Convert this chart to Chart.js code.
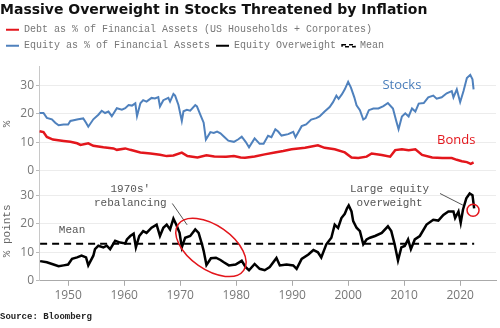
<!DOCTYPE html>
<html>
<head>
<meta charset="utf-8">
<script src="https://cdn.jsdelivr.net/npm/chart.js@4.4.1/dist/chart.umd.min.js"></script>
<style>
  body { margin: 0; background: #fff; }
  #wrap { width: 500px; height: 328px; }
</style>
</head>
<body>
<div id="wrap"><canvas id="chart" width="500" height="328"></canvas></div>
<script>
// debt as % of financial assets (red)
const debtYears = [1944.9, 1945.6, 1946.2, 1947.3, 1949.2, 1950.4, 1951.6, 1952.2, 1953.6, 1954.5,
  1956.3, 1958.1, 1958.7, 1960.2, 1961.1, 1962.9, 1964.7, 1966.4, 1967.6, 1968.8,
  1970.3, 1971.3, 1973.1, 1974.7, 1976.1, 1978.2, 1979.6, 1980.8, 1981.6, 1983.3,
  1985.1, 1986.9, 1988.4, 1989.9, 1992.3, 1994.6, 1995.8, 1997.6, 1999.4, 2000.6,
  2001.8, 2003.3, 2004.2, 2006.0, 2007.5, 2008.4, 2009.6, 2010.8, 2012.0, 2013.2,
  2015.0, 2016.8, 2018.5, 2019.4, 2020.3, 2021.2, 2021.9, 2022.4];
const debtPct = [13.9, 13.6, 11.9, 11.0, 10.5, 10.2, 9.7, 9.1, 9.7, 8.8,
  8.3, 7.9, 7.4, 7.9, 7.4, 6.5, 6.1, 5.7, 5.2, 5.4,
  6.4, 5.2, 4.7, 5.5, 5.1, 5.0, 5.2, 4.7, 4.6, 5.1,
  5.8, 6.5, 7.0, 7.6, 8.1, 9.0, 8.1, 7.6, 6.5, 4.7,
  4.5, 5.0, 6.1, 5.6, 5.0, 7.3, 7.6, 7.3, 7.6, 5.6,
  4.7, 4.5, 4.5, 3.9, 3.4, 3.1, 2.5, 3.0];

// equity as % of financial assets (blue)
const equityYears = [1944.9, 1945.6, 1946.2, 1947.1, 1947.7, 1948.3, 1949.2, 1950.0, 1950.4, 1951.8,
  1952.7, 1953.2, 1953.6, 1954.5, 1955.4, 1956.0, 1956.6, 1957.2, 1957.8, 1958.7,
  1959.6, 1960.2, 1960.8, 1961.4, 1962.0, 1962.3, 1962.9, 1963.4, 1964.0, 1964.9,
  1965.5, 1966.1, 1966.4, 1967.0, 1967.9, 1968.2, 1968.8, 1969.1, 1969.7, 1970.3,
  1970.6, 1971.2, 1971.8, 1972.7, 1973.0, 1973.6, 1974.2, 1974.6, 1975.4, 1976.0,
  1976.6, 1977.2, 1977.8, 1978.6, 1979.6, 1980.4, 1981.0, 1981.7, 1982.3, 1983.3,
  1984.2, 1984.9, 1985.7, 1986.3, 1987.0, 1987.5, 1988.1, 1989.3, 1990.2, 1990.6,
  1991.7, 1992.5, 1993.4, 1994.3, 1994.9, 1995.8, 1996.7, 1997.3, 1997.9, 1998.3,
  1998.9, 1999.4, 2000.0, 2000.5, 2001.1, 2001.5, 2002.1, 2002.7, 2003.1, 2003.7,
  2004.5, 2005.4, 2006.3, 2007.1, 2008.0, 2008.6, 2009.0, 2009.6, 2010.2, 2010.8,
  2011.4, 2012.0, 2012.6, 2013.5, 2014.3, 2015.2, 2015.8, 2016.7, 2017.6, 2018.5,
  2018.8, 2019.4, 2020.0, 2020.6, 2021.2, 2021.8, 2022.2, 2022.4];
const equityPct = [20.3, 20.3, 18.6, 18.1, 16.9, 16.0, 16.3, 16.3, 17.5, 18.1,
  18.4, 16.9, 15.5, 18.1, 19.7, 21.1, 20.3, 20.8, 19.2, 22.0,
  21.5, 22.0, 23.1, 22.9, 23.7, 19.2, 23.7, 24.8, 24.3, 25.6,
  25.4, 25.9, 22.6, 24.8, 25.6, 24.3, 27.0, 26.4, 23.1, 17.5,
  20.9, 21.4, 21.1, 23.1, 22.6, 19.7, 16.9, 11.0, 13.6, 13.3,
  13.8, 13.2, 12.1, 10.6, 10.2, 11.1, 12.0, 10.2, 8.3, 11.4,
  9.5, 9.5, 12.3, 11.8, 14.6, 13.8, 12.4, 12.9, 13.7, 11.8,
  15.7, 16.3, 18.0, 18.5, 19.1, 20.8, 22.4, 24.1, 26.4, 25.3,
  26.9, 28.6, 31.2, 29.2, 25.8, 23.0, 21.3, 18.0, 18.5, 21.3,
  21.9, 21.9, 22.7, 23.8, 21.9, 17.4, 14.6, 19.1, 20.2, 19.1,
  21.9, 20.8, 23.6, 23.8, 25.8, 26.4, 25.3, 25.8, 27.2, 28.0,
  25.8, 28.6, 24.1, 28.0, 32.6, 33.7, 32.1, 28.6];

// equity overweight, % points (black)
const overweightYears = [1945.0, 1946.2, 1947.4, 1948.3, 1949.2, 1950.0, 1950.7, 1951.6, 1952.4, 1953.2,
  1953.6, 1954.5, 1954.8, 1955.4, 1956.3, 1956.9, 1957.5, 1958.4, 1959.3, 1960.2,
  1960.5, 1961.1, 1961.7, 1962.1, 1962.7, 1963.4, 1964.0, 1964.9, 1965.8, 1966.4,
  1967.0, 1967.6, 1968.2, 1968.8, 1969.3, 1969.9, 1970.3, 1970.9, 1971.8, 1972.7,
  1973.3, 1973.9, 1974.2, 1974.7, 1975.5, 1976.4, 1977.2, 1977.8, 1978.7, 1979.9,
  1981.0, 1981.7, 1982.3, 1983.3, 1984.2, 1985.1, 1986.0, 1987.2, 1987.8, 1989.0,
  1990.2, 1990.8, 1991.7, 1992.9, 1993.8, 1994.6, 1995.2, 1996.1, 1997.0, 1997.6,
  1998.2, 1998.8, 1999.4, 1999.8, 2000.1, 2000.6, 2000.9, 2001.5, 2002.1, 2002.7,
  2003.3, 2003.9, 2004.8, 2006.0, 2007.1, 2007.7, 2008.3, 2008.9, 2009.5, 2010.1,
  2010.7, 2011.2, 2011.9, 2012.8, 2014.0, 2015.2, 2016.1, 2017.0, 2017.9, 2018.8,
  2019.1, 2019.7, 2020.1, 2020.5, 2021.1, 2021.7, 2022.2, 2022.5];
const overweightPts = [6.9, 6.5, 5.7, 5.1, 5.4, 5.7, 7.7, 8.2, 8.8, 8.2,
  5.4, 8.8, 11.1, 12.3, 11.7, 12.3, 11.1, 14.0, 13.4, 13.1,
  14.5, 15.7, 16.5, 11.7, 15.7, 17.4, 16.8, 18.6, 19.7, 15.7,
  18.6, 19.7, 18.0, 21.8, 19.7, 16.8, 11.7, 15.1, 15.7, 18.0,
  16.8, 12.8, 10.5, 5.5, 7.9, 8.1, 7.3, 6.5, 5.4, 5.7,
  7.0, 4.8, 3.7, 5.9, 4.2, 3.7, 4.8, 8.0, 5.4, 5.7,
  5.4, 4.2, 7.7, 9.2, 10.8, 10.0, 8.2, 12.8, 15.1, 19.7,
  18.5, 22.0, 23.5, 25.4, 26.4, 24.3, 20.9, 18.6, 17.4, 12.8,
  14.5, 15.1, 15.7, 16.8, 19.1, 17.4, 12.8, 7.1, 11.7, 12.2,
  14.5, 11.1, 14.5, 15.7, 19.7, 21.4, 21.1, 23.1, 24.3, 24.3,
  22.0, 24.3, 20.3, 24.9, 28.9, 30.6, 30.0, 25.4];

const meanYears = [1945.0, 2022.5];
const meanPts = [13.0, 13.0];

const yearTicks = [1950, 1960, 1970, 1980, 1990, 2000, 2010, 2020];
const valueTicks = [0, 5, 10, 15, 20, 25, 30, 35];

const toPoints = (xs, ys) => xs.map((x, i) => ({ x: x, y: ys[i] }));

const MONO = '"Liberation Mono", "DejaVu Sans Mono", monospace';
const SANS = '"Open Sans", "DejaVu Sans", sans-serif';

// extra room under the legend
const legendGap = {
  id: 'legendGap',
  beforeInit(chart) {
    const fit = chart.legend.fit;
    chart.legend.fit = function () {
      fit.bind(chart.legend)();
      this.height += 6;
    };
  }
};

// text labels, leader lines and circles drawn over the lines
// y = lower panel (% points), y2 = upper panel (%)
const notes = {
  id: 'notes',
  afterDatasetsDraw(chart) {
    const { ctx, scales: { x, y, y2 } } = chart;
    ctx.save();
    ctx.textAlign = 'center';
    ctx.textBaseline = 'middle';

    ctx.font = '13px ' + SANS;
    ctx.fillStyle = '#4a7ebb';
    ctx.fillText('Stocks', x.getPixelForValue(2009.6), y2.getPixelForValue(30));
    ctx.fillStyle = '#e3161c';
    ctx.fillText('Bonds', x.getPixelForValue(2019.3), y2.getPixelForValue(10.8));

    ctx.font = '11px ' + MONO;
    ctx.fillStyle = '#555';
    ctx.fillText('Mean', x.getPixelForValue(1950.7), y.getPixelForValue(17.9));
    ctx.fillText("1970s'", x.getPixelForValue(1961.1), y.getPixelForValue(32.3));
    ctx.fillText('rebalancing', x.getPixelForValue(1961.1), y.getPixelForValue(27.1));
    ctx.fillText('Large equity', x.getPixelForValue(2007.4), y.getPixelForValue(32.3));
    ctx.fillText('overweight', x.getPixelForValue(2007.4), y.getPixelForValue(27.1));

    ctx.strokeStyle = '#555';
    ctx.lineWidth = 1;
    ctx.beginPath();
    ctx.moveTo(x.getPixelForValue(1968.6), y.getPixelForValue(27.1));
    ctx.lineTo(x.getPixelForValue(1971.25), y.getPixelForValue(19.6));
    ctx.moveTo(x.getPixelForValue(2016.4), y.getPixelForValue(30.6));
    ctx.lineTo(x.getPixelForValue(2020.5), y.getPixelForValue(26.5));
    ctx.stroke();

    ctx.strokeStyle = '#e3161c';
    ctx.lineWidth = 1.5;
    ctx.beginPath();
    ctx.ellipse(x.getPixelForValue(1975.5), y.getPixelForValue(11.7), 40, 22, 35 * Math.PI / 180, 0, Math.PI * 2);
    ctx.stroke();
    ctx.beginPath();
    ctx.arc(x.getPixelForValue(2022.3), y.getPixelForValue(24.7), 6, 0, Math.PI * 2);
    ctx.stroke();
    ctx.restore();
  }
};

const valueAxis = (min, max, weight, title) => ({
  type: 'linear',
  position: 'left',
  stack: 'panels',
  stackWeight: weight,
  min: min,
  max: max,
  afterBuildTicks: s => { s.ticks = valueTicks.map(v => ({ value: v })); },
  afterFit: s => { s.width = 39; },
  ticks: {
    color: '#777',
    font: { family: SANS, size: 12 },
    padding: 2,
    callback: v => (v % 10 === 0 ? String(v) : '')
  },
  grid: { color: '#ececec', tickLength: 3, tickColor: '#bbb' },
  border: { color: '#c8c8c8' },
  title: { display: true, text: title, color: '#666', font: { family: MONO, size: 11 }, padding: 0 }
});

new Chart(document.getElementById('chart'), {
  type: 'line',
  data: {
    datasets: [
      {
        label: 'Debt as % of Financial Assets (US Households + Corporates)',
        data: toPoints(debtYears, debtPct),
        yAxisID: 'y2',
        borderColor: '#e3161c',
        borderWidth: 2.5
      },
      {
        label: 'Equity as % of Financial Assets',
        data: toPoints(equityYears, equityPct),
        yAxisID: 'y2',
        borderColor: '#4f81bd',
        borderWidth: 2
      },
      {
        label: 'Equity Overweight',
        data: toPoints(overweightYears, overweightPts),
        yAxisID: 'y',
        borderColor: '#000',
        borderWidth: 2.5
      },
      {
        label: 'Mean',
        data: toPoints(meanYears, meanPts),
        yAxisID: 'y',
        borderColor: '#000',
        borderWidth: 2,
        borderDash: [7, 5]
      }
    ]
  },
  options: {
    responsive: false,
    animation: false,
    layout: { padding: { left: 0, right: 4, top: 0, bottom: 0 } },
    elements: { point: { radius: 0 }, line: { tension: 0, fill: false } },
    scales: {
      x: {
        type: 'linear',
        min: 1944.8,
        max: 2026.4,
        afterBuildTicks: s => { s.ticks = yearTicks.map(v => ({ value: v })); },
        ticks: { color: '#777', font: { family: SANS, size: 12 }, padding: 3, callback: v => String(v) },
        grid: { drawOnChartArea: false, tickLength: 5, tickColor: '#aaa' },
        border: { color: '#aaa' }
      },
      y: valueAxis(0, 35, 35, '% points'),
      y2: valueAxis(-3.5, 36.5, 40, '%')
    },
    plugins: {
      title: {
        display: true,
        align: 'start',
        text: 'Massive Overweight in Stocks Threatened by Inflation',
        color: '#111',
        font: { family: '"DejaVu Sans", sans-serif', size: 14, weight: 'bold' },
        padding: { top: 2, bottom: 0 }
      },
      subtitle: {
        display: true,
        position: 'bottom',
        align: 'start',
        text: 'Source: Bloomberg',
        color: '#222',
        font: { family: MONO, size: 9, weight: 'bold' },
        padding: { top: 5, bottom: 6 }
      },
      legend: {
        align: 'start',
        labels: {
          boxWidth: 13,
          boxHeight: 2,
          padding: 6,
          color: '#777',
          font: { family: MONO, size: 10 },
          generateLabels: chart => chart.data.datasets.map((d, i) => ({
            text: d.label,
            fillStyle: d.borderDash ? 'rgba(0,0,0,0)' : d.borderColor,
            strokeStyle: d.borderColor,
            lineWidth: d.borderDash ? 1.5 : 0,
            lineDash: d.borderDash ? [4, 3] : [],
            fontColor: '#777',
            hidden: false,
            datasetIndex: i
          }))
        }
      },
      tooltip: { enabled: false }
    }
  },
  plugins: [legendGap, notes]
});
</script>
</body>
</html>
